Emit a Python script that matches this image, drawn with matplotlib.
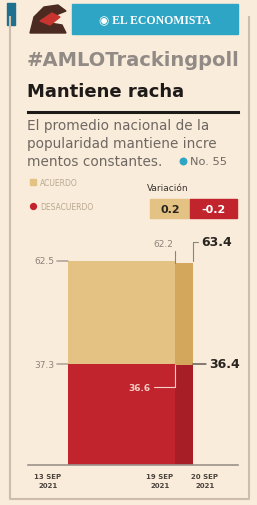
import matplotlib
matplotlib.use('Agg')
import matplotlib.pyplot as plt
import matplotlib.patches as mpatches
import numpy as np

# Datos del gráfico
fechas = ['13 SEP\n2021', '19 SEP\n2021', '20 SEP\n2021']
dias = [0, 6, 7]  # días desde el 13 de septiembre
acuerdo = [62.5, 62.2, 63.4]
desacuerdo = [37.3, 36.6, 36.4]
variacion = ['0.2', '-0.2']
titulo = 'Mantiene racha'
etiqueta = '#AMLOTrackingpoll'
texto = ['El promedio nacional de la', 'popularidad mantiene incre', 'mentos constantes.']
muestra = 'No. 55'

fondo = '#f9ecdb'
c_acu = '#e4c283'
c_acu2 = '#d3a75c'
c_des = '#c1242d'
c_des2 = '#a81e27'
teal = '#2ea5c5'
gris = '#8c837b'

fig = plt.figure(figsize=(2.57, 5.06), dpi=100)
fig.patch.set_facecolor(fondo)

# capa de fondo en píxeles
ax0 = fig.add_axes([0, 0, 1, 1])
ax0.set_xlim(0, 257)
ax0.set_ylim(506, 0)
ax0.axis('off')
ax0.set_facecolor(fondo)

# marco
ax0.plot([10, 10, 249, 249], [18, 500, 500, 18], color='#cdbdaa', lw=1.5)
ax0.add_patch(mpatches.Rectangle((7, 4), 8, 22, color='#1f6f8e'))

# logo
ax0.add_patch(mpatches.Polygon([[30, 34], [34, 18], [44, 8], [58, 6], [66, 12], [56, 16], [50, 24], [62, 26], [66, 34]],
                               closed=True, color='#4b2a22'))
ax0.add_patch(mpatches.Polygon([[40, 22], [52, 14], [60, 18], [50, 26]], closed=True, color='#c8342e'))
ax0.add_patch(mpatches.Rectangle((72, 5), 166, 30, color=teal))
ax0.text(155, 20, '◉ EL ECONOMISTA', color='white', fontsize=8.5, fontweight='bold',
         family=['Liberation Serif', 'DejaVu Sans'], ha='center', va='center')

ax0.text(27, 60, etiqueta, color='#928b85', fontsize=14, fontweight='heavy', ha='left', va='center')
ax0.text(27, 92, titulo, color='#1e1a18', fontsize=13, fontweight='heavy', ha='left', va='center')
ax0.plot([28, 238], [113, 113], color='#1e1a18', lw=2.2)

for i, linea in enumerate(texto):
    ax0.text(27, 126 + 18 * i, linea, color='#6f6862', fontsize=9.8, ha='left', va='center')
ax0.scatter([183], [162], s=22, color=teal, zorder=3)
ax0.text(190, 162, muestra, color='#6f6862', fontsize=8.2, ha='left', va='center')

# leyenda
ax0.add_patch(mpatches.Rectangle((30, 180), 6, 6, color=c_acu))
ax0.text(40, 183, 'ACUERDO', color='#b9a88f', fontsize=5.5, ha='left', va='center')
ax0.scatter([33], [207], s=18, color=c_des, zorder=3)
ax0.text(40, 207, 'DESACUERDO', color='#b9a88f', fontsize=5.5, ha='left', va='center')

ax0.text(168, 188, 'Variación', color='#3a3330', fontsize=6.5, ha='center', va='center')
ax0.add_patch(mpatches.Rectangle((150, 200), 40, 19, color=c_acu))
ax0.add_patch(mpatches.Rectangle((190, 200), 47, 19, color=c_des))
ax0.text(170, 210, variacion[0], color='#2a2420', fontsize=8, fontweight='bold', ha='center', va='center')
ax0.text(213, 210, variacion[1], color='white', fontsize=8, fontweight='bold', ha='center', va='center')

# gráfico de áreas
ax = fig.add_axes([28 / 257, 40 / 506, 210 / 257, 226 / 506])
ax.set_facecolor('none')
ppd = 17.83
ax.set_xlim(-40 / ppd, 170 / ppd)
ybot = desacuerdo[0] - 101 / 1.648
ax.set_ylim(ybot, acuerdo[0] + desacuerdo[0] + 22 / 1.648)

colores = [(c_des, c_acu), (c_des2, c_acu2)]
for i in range(len(dias) - 1):
    xs = [dias[i], dias[i + 1]]
    d = [desacuerdo[i]] * 2
    t = [desacuerdo[i] + acuerdo[i]] * 2
    ax.fill_between(xs, ybot, d, color=colores[i][0], lw=0)
    ax.fill_between(xs, d, t, color=colores[i][1], lw=0)

for s in ['top', 'right', 'left']:
    ax.spines[s].set_visible(False)
ax.spines['bottom'].set_color('#9d938a')
ax.spines['bottom'].set_linewidth(1.2)
ax.set_yticks([])
ax.set_xticks([])

lp = dict(arrowstyle='-', color=gris, lw=0.8, shrinkA=0, shrinkB=0)
# valores iniciales
ax.annotate(f'{acuerdo[0]}', xy=(dias[0], acuerdo[0] + desacuerdo[0]), xytext=(-14, 0),
            textcoords='offset pixels', ha='right', va='center', fontsize=6.5, color=gris, arrowprops=lp)
ax.annotate(f'{desacuerdo[0]}', xy=(dias[0], desacuerdo[0]), xytext=(-14, 0),
            textcoords='offset pixels', ha='right', va='center', fontsize=6.5, color=gris, arrowprops=lp)
# 19 sep
ax.annotate(f'{acuerdo[1]}', xy=(dias[1], acuerdo[1] + desacuerdo[1]), xytext=(-2, 19),
            textcoords='offset pixels', ha='right', va='center', fontsize=6.5, color=gris,
            arrowprops=dict(lp, connectionstyle='angle,angleA=0,angleB=90,rad=0'))
ax.annotate(f'{desacuerdo[1]}', xy=(dias[1], desacuerdo[1]), xytext=(-24, -22),
            textcoords='offset pixels', ha='right', va='center', fontsize=6.5, color='#f3d0c8',
            fontweight='bold',
            arrowprops=dict(lp, color='#f3d0c8', connectionstyle='angle,angleA=0,angleB=90,rad=0'))
# 20 sep
ax.annotate(f'{acuerdo[2]}', xy=(dias[2], acuerdo[2] + desacuerdo[2]), xytext=(8, 19),
            textcoords='offset pixels', ha='left', va='center', fontsize=9, color='#2a2420',
            fontweight='bold',
            arrowprops=dict(lp, connectionstyle='angle,angleA=0,angleB=90,rad=0'))
ax.annotate(f'{desacuerdo[2]}', xy=(dias[2], desacuerdo[0]), xytext=(16, 0),
            textcoords='offset pixels', ha='left', va='center', fontsize=9, color='#2a2420',
            fontweight='bold', arrowprops=dict(lp, color='#2a2420'))

# etiquetas de fecha
desp = [-20, -15, 12]
for d, f, o in zip(dias, fechas, desp):
    ax.annotate(f, xy=(d, ybot), xytext=(o, -8), textcoords='offset pixels', ha='center', va='top',
                fontsize=5, color='#4a423c', fontweight='bold', linespacing=1.6)

fig.savefig('out.png', dpi=100, facecolor=fondo)
